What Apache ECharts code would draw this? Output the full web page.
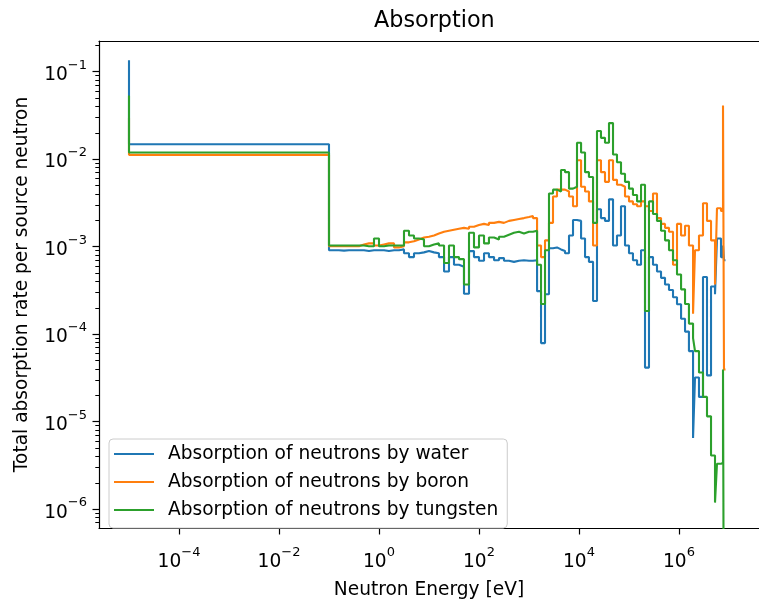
<!DOCTYPE html>
<html>
<head>
<meta charset="utf-8">
<script src="https://cdn.jsdelivr.net/npm/echarts@6/dist/echarts.min.js"></script>
<style>
html, body { margin: 0; padding: 0; background: #fff; }
#chart { width: 759px; height: 605px; }
</style>
</head>
<body>
<div id="chart"></div>
<script>
// 能量分组边界 (eV)，三条曲线共用
var energy = [1e-5, 0.1,
    0.126, 0.158, 0.2, 0.251, 0.316, 0.398, 0.501, 0.631, 0.794, 1,
    1.26, 1.58, 2, 2.51, 3.16, 3.98, 5.01, 6.31, 7.94, 10,
    12.6, 15.8, 20, 25.1, 31.6, 39.8, 50.1, 63.1, 79.4, 100,
    126, 158, 200, 251, 316, 398, 501, 631, 794, 1000,
    1200, 1450, 1740, 2090, 2510, 3020, 3630, 4370, 5250, 6310, 7590, 9120,
    1.1e4, 1.32e4, 1.58e4, 1.91e4, 2.29e4, 2.75e4, 3.31e4, 3.98e4, 4.79e4, 5.75e4, 6.92e4, 8.32e4,
    1e5, 1.2e5, 1.45e5, 1.74e5, 2.09e5, 2.51e5, 3.02e5, 3.63e5, 4.37e5, 5.25e5, 6.31e5, 7.59e5, 9.12e5,
    1.1e6, 1.32e6, 1.58e6, 1.91e6, 2.09e6, 2.51e6, 3.02e6, 3.63e6, 4.37e6, 5.25e6, 5.75e6, 6.92e6,
    7.59e6, 7.94e6, 8.51e6];

// 水
var water = [0.135, 0.0148,
    9.1e-4, 9.1e-4, 9.0e-4, 9.1e-4, 9.1e-4, 9.1e-4, 9.1e-4, 8.9e-4, 9.1e-4, 9.1e-4,
    9.1e-4, 8.9e-4, 9.1e-4, 9.1e-4, 9.3e-4, 8.4e-4, 7.6e-4, 8.4e-4, 8.6e-4, 8.9e-4,
    8.6e-4, 8.4e-4, 7.6e-4, 5.2e-4, 7.6e-4, 6.2e-4, 5.9e-4, 2.9e-4, 8.9e-4, 7.6e-4,
    6.9e-4, 8.4e-4, 7.6e-4, 7.0e-4, 7.4e-4, 6.9e-4, 6.7e-4, 6.9e-4, 7.0e-4, 6.9e-4,
    6.9e-4, 7.0e-4, 3.1e-4, 7.9e-5, 2.86e-4, 9.6e-4, 9.8e-4, 9.3e-4, 8.9e-4, 8.4e-4, 1.34e-3, 2.02e-3,
    1.97e-3, 1.24e-3, 7.6e-4, 6.7e-4, 2.39e-4, 2.68e-3, 2.12e-3, 1.97e-3, 3.47e-3, 1.03e-3, 1.34e-3, 2.89e-3,
    1.03e-3, 8.4e-4, 7.0e-4, 6.2e-4, 9.1e-4, 4.15e-5, 7.6e-4, 6.2e-4, 5.2e-4, 4.4e-4, 3.7e-4, 3.2e-4, 2.64e-4,
    2.2e-4, 1.5e-4, 1.07e-4, 6.4e-5, 6.5e-6, 3.2e-5, 1.92e-5, 4.5e-4, 3.38e-5, 3.5e-4, 2.86e-4, 1.24e-3,
    7.6e-4, 1.03e-3, 7.0e-4];

// 硼
var boron = [0.03, 0.0112,
    1.01e-3, 1.01e-3, 1.01e-3, 1.01e-3, 1.01e-3, 1.01e-3, 1.06e-3, 1.09e-3, 1.09e-3, 1.03e-3,
    1.06e-3, 1.09e-3, 1.09e-3, 9.8e-4, 1.01e-3, 1.12e-3, 1.15e-3, 1.21e-3, 1.27e-3, 1.3e-3,
    1.34e-3, 1.41e-3, 1.48e-3, 1.52e-3, 1.56e-3, 1.6e-3, 1.64e-3, 1.6e-3, 1.69e-3, 1.77e-3,
    1.82e-3, 1.77e-3, 1.87e-3, 1.92e-3, 1.87e-3, 1.97e-3, 2.02e-3, 2.07e-3, 2.12e-3, 2.18e-3,
    2.24e-3, 2.12e-3, 1.03e-3, 7.6e-4, 1.18e-3, 1.87e-3, 3.74e-3, 4.48e-3, 4.48e-3, 4.26e-3, 3.74e-3, 2.89e-3,
    9.7e-3, 4.84e-3, 4.26e-3, 3.29e-3, 1.03e-3, 9.7e-3, 7.1e-3, 5.5e-3, 9.7e-3, 5.8e-3, 5.1e-3, 4.84e-3,
    3.74e-3, 3.29e-3, 3.05e-3, 2.89e-3, 3.29e-3, 2.89e-3, 2.55e-3, 4.05e-3, 2.12e-3, 1.82e-3, 1.64e-3, 1.48e-3, 6.2e-4,
    1.82e-3, 1.34e-3, 1.73e-3, 1.03e-3, 1.71e-4, 9.1e-4, 1.34e-3, 3.13e-3, 1.97e-3, 1.18e-3, 3.7e-4, 2.75e-3,
    2.55e-3, 0.0409, 3.94e-5];

// 钨
var tungsten = [0.0533, 0.0119,
    1.03e-3, 1.03e-3, 1.03e-3, 1.03e-3, 1.03e-3, 1.03e-3, 1.03e-3, 1.01e-3, 1.01e-3, 1.24e-3,
    1.01e-3, 1.03e-3, 1.03e-3, 1.03e-3, 1.03e-3, 1.52e-3, 1.34e-3, 1.24e-3, 1.21e-3, 1.01e-3,
    1.06e-3, 1.09e-3, 1.03e-3, 6.5e-4, 1.03e-3, 7.6e-4, 7.2e-4, 3.7e-4, 1.44e-3, 9.8e-4,
    1.34e-3, 1.09e-3, 1.27e-3, 1.21e-3, 1.3e-3, 1.37e-3, 1.44e-3, 1.48e-3, 1.41e-3, 1.48e-3,
    1.48e-3, 1.52e-3, 6.2e-4, 2.21e-4, 9.1e-4, 4.05e-3, 4.48e-3, 4.26e-3, 7.5e-3, 7.1e-3, 4.6e-3, 4.84e-3,
    0.0154, 0.0119, 7.1e-3, 6.25e-3, 1.87e-3, 0.021, 0.0175, 0.0154, 0.0258, 0.0113, 9.2e-3, 6.8e-3,
    5.5e-3, 4.6e-3, 3.9e-3, 3.29e-3, 5.09e-3, 1.84e-4, 3.29e-3, 2.36e-3, 1.97e-3, 1.52e-3, 1.18e-3, 9.1e-4, 7.0e-4,
    4.8e-4, 3.25e-4, 2.21e-4, 1.32e-4, 9.0e-5, 6.4e-5, 3.65e-5, 1.92e-5, 1.15e-5, 4.1e-6, 1.19e-6, 3.3e-6,
    3.4e-6, 3.94e-5, 0];

var seriesNames = ['Absorption of neutrons by water', 'Absorption of neutrons by boron', 'Absorption of neutrons by tungsten'];
var colors = ['#1f77b4', '#ff7f0e', '#2ca02c'];

// 坐标轴刻度（以10为底的指数）
var xTicks = [-4, -2, 0, 2, 4, 6];
var yTicks = [-6, -5, -4, -3, -2, -1];

var xMin = -5.6, xMax = 7.6;
var yMin = -6.215, yMax = -0.65;

var chart = echarts.init(document.getElementById('chart'));
var font = 'DejaVu Sans';

// 次刻度 2..9 x 10^n
var yMinor = [];
for (var n = -7; n <= -1; n++) {
    for (var k = 2; k <= 9; k++) {
        var t = n + Math.log10(k);
        if (t > yMin && t < yMax) yMinor.push(t);
    }
}

function toLog(vals) {
    var out = [];
    for (var i = 0; i < vals.length; i++) {
        out.push([Math.log10(energy[i]), vals[i] > 0 ? Math.log10(vals[i]) : yMin - 2]);
    }
    return out;
}

function powLabel(v) {
    var e = Math.round(v);
    return '{b|10}{s|' + (e < 0 ? '\u2212' + (-e) : e) + '}';
}

var labelRich = {
    b: { fontSize: 18.6, fontFamily: font, color: '#000', lineHeight: 26, verticalAlign: 'bottom' },
    s: { fontSize: 13, fontFamily: font, color: '#000', lineHeight: 14, verticalAlign: 'top' }
};

var series = [];
var lists = [water, boron, tungsten];
for (var i = 0; i < lists.length; i++) {
    series.push({
        name: seriesNames[i],
        type: 'line',
        step: 'start',
        symbol: 'none',
        clip: true,
        data: toLog(lists[i]),
        lineStyle: { color: colors[i], width: 2.1 },
        itemStyle: { color: colors[i] }
    });
}

var option = {
    animation: false,
    backgroundColor: '#fff',
    title: {
        text: 'Absorption',
        left: 369,
        top: 5,
        textStyle: { fontFamily: font, fontSize: 22.3, fontWeight: 'normal', color: '#000' }
    },
    legend: {
        data: seriesNames,
        orient: 'vertical',
        left: 109,
        top: 439,
        icon: 'rect',
        itemWidth: 40,
        itemHeight: 2.2,
        itemGap: 8,
        padding: [5, 9, 8, 5],
        backgroundColor: 'rgba(255,255,255,0.8)',
        borderColor: '#cccccc',
        borderWidth: 1,
        borderRadius: 4,
        textStyle: { fontFamily: font, fontSize: 18.6, color: '#000', lineHeight: 20, padding: [0, 0, 0, 9] }
    },
    grid: {
        left: 99, top: 41, right: 0, bottom: 66,
        show: false
    },
    xAxis: [{
        type: 'value',
        position: 'bottom',
        min: xMin,
        max: xMax,
        name: 'Neutron Energy [eV]',
        nameLocation: 'middle',
        nameGap: 53,
        nameTextStyle: { fontFamily: font, fontSize: 18.6, color: '#000' },
        axisLine: { show: true, onZero: false, lineStyle: { color: '#000', width: 1.2 } },
        axisTick: { show: true, customValues: xTicks, length: 6.5, lineStyle: { color: '#000', width: 1.2 } },
        axisLabel: { customValues: xTicks, formatter: powLabel, rich: labelRich, margin: 18 },
        splitLine: { show: false }
    }, {
        // 上边框
        type: 'value',
        position: 'top',
        min: xMin,
        max: xMax,
        axisLine: { show: true, onZero: false, lineStyle: { color: '#000', width: 1.2 } },
        axisTick: { show: false },
        axisLabel: { show: false },
        splitLine: { show: false }
    }],
    yAxis: [{
        type: 'value',
        position: 'left',
        min: yMin,
        max: yMax,
        name: 'Total absorption rate per source neutron',
        nameLocation: 'middle',
        nameGap: 67,
        nameTextStyle: { fontFamily: font, fontSize: 18.6, color: '#000' },
        axisLine: { show: true, onZero: false, lineStyle: { color: '#000', width: 1.2 } },
        axisTick: { show: true, customValues: yTicks, length: 6.5, lineStyle: { color: '#000', width: 1.2 } },
        axisLabel: { customValues: yTicks, formatter: powLabel, rich: labelRich, margin: 12 },
        splitLine: { show: false }
    }, {
        type: 'value',
        position: 'left',
        offset: 0,
        min: yMin,
        max: yMax,
        axisLine: { show: false, onZero: false },
        axisTick: { show: true, customValues: yMinor, length: 3.7, lineStyle: { color: '#000', width: 1 } },
        axisLabel: { show: false },
        splitLine: { show: false }
    }],
    series: series
};

chart.setOption(option);
</script>
</body>
</html>
